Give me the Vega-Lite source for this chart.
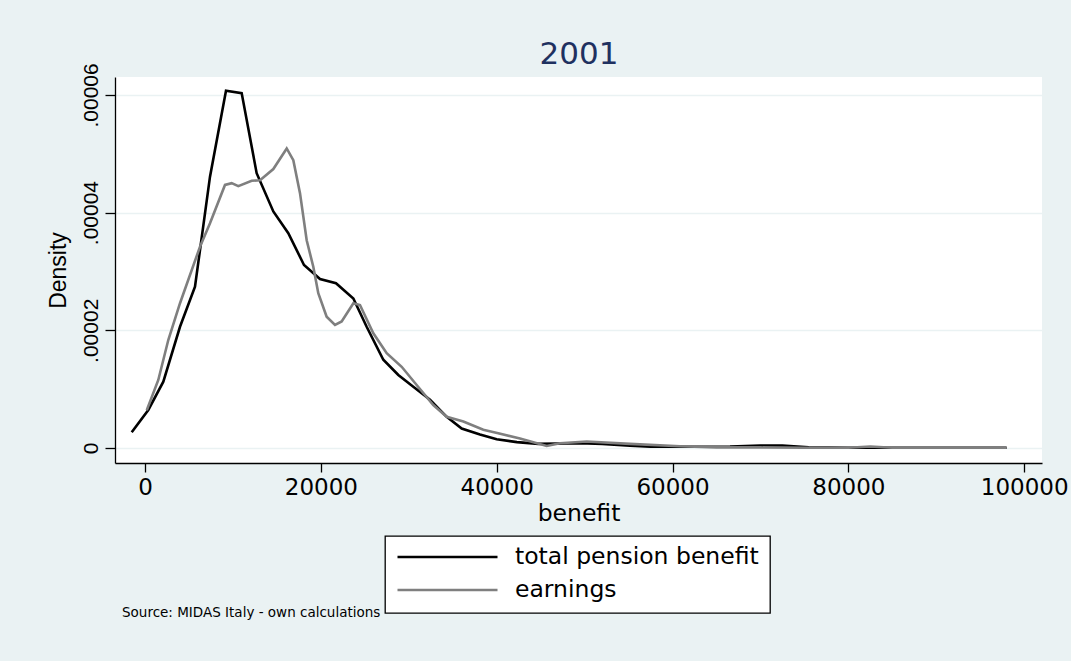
{
  "$schema": "https://vega.github.io/schema/vega-lite/v6.json",
  "width": 927,
  "height": 386,
  "autosize": {"type": "none"},
  "padding": {"left": 115, "top": 77, "right": 29, "bottom": 198},
  "background": "#EAF2F3",
  "title": {
    "text": "Source: MIDAS Italy - own calculations",
    "orient": "bottom",
    "anchor": "start",
    "frame": "group",
    "font": "DejaVu Sans",
    "fontSize": 13.5,
    "fontWeight": "normal",
    "color": "black",
    "offset": -8,
    "dx": 7
  },
  "datasets": {
    "total": [
      {"benefit": -1513, "density": 0.00000267, "series": "total pension benefit"},
      {"benefit": 375, "density": 0.00000646, "series": "total pension benefit"},
      {"benefit": 2085, "density": 0.00001127, "series": "total pension benefit"},
      {"benefit": 3981, "density": 0.0000206, "series": "total pension benefit"},
      {"benefit": 5687, "density": 0.0000274, "series": "total pension benefit"},
      {"benefit": 7393, "density": 0.0000461, "series": "total pension benefit"},
      {"benefit": 9213, "density": 0.0000607, "series": "total pension benefit"},
      {"benefit": 10995, "density": 0.0000603, "series": "total pension benefit"},
      {"benefit": 12700, "density": 0.0000467, "series": "total pension benefit"},
      {"benefit": 14596, "density": 0.0000402, "series": "total pension benefit"},
      {"benefit": 16300, "density": 0.0000365, "series": "total pension benefit"},
      {"benefit": 18085, "density": 0.0000311, "series": "total pension benefit"},
      {"benefit": 19905, "density": 0.0000287, "series": "total pension benefit"},
      {"benefit": 21724, "density": 0.000028, "series": "total pension benefit"},
      {"benefit": 23700, "density": 0.0000254, "series": "total pension benefit"},
      {"benefit": 25212, "density": 0.0000206, "series": "total pension benefit"},
      {"benefit": 27107, "density": 0.000015, "series": "total pension benefit"},
      {"benefit": 28813, "density": 0.0000124, "series": "total pension benefit"},
      {"benefit": 30518, "density": 0.0000104, "series": "total pension benefit"},
      {"benefit": 32416, "density": 0.0000082, "series": "total pension benefit"},
      {"benefit": 34316, "density": 0.0000053, "series": "total pension benefit"},
      {"benefit": 36021, "density": 0.0000033, "series": "total pension benefit"},
      {"benefit": 38100, "density": 0.0000023, "series": "total pension benefit"},
      {"benefit": 40000, "density": 0.0000015, "series": "total pension benefit"},
      {"benefit": 42300, "density": 0.000001, "series": "total pension benefit"},
      {"benefit": 44730, "density": 0.0000007, "series": "total pension benefit"},
      {"benefit": 49500, "density": 0.0000008, "series": "total pension benefit"},
      {"benefit": 52000, "density": 0.0000007, "series": "total pension benefit"},
      {"benefit": 55160, "density": 0.0000004, "series": "total pension benefit"},
      {"benefit": 57500, "density": 0.0000002, "series": "total pension benefit"},
      {"benefit": 60850, "density": 0.0000002, "series": "total pension benefit"},
      {"benefit": 66540, "density": 0.00000025, "series": "total pension benefit"},
      {"benefit": 70000, "density": 0.0000004, "series": "total pension benefit"},
      {"benefit": 72500, "density": 0.0000004, "series": "total pension benefit"},
      {"benefit": 75500, "density": 0.0000001, "series": "total pension benefit"},
      {"benefit": 80000, "density": 0.00000005, "series": "total pension benefit"},
      {"benefit": 85000, "density": 0.00000005, "series": "total pension benefit"},
      {"benefit": 90000, "density": 0.00000003, "series": "total pension benefit"},
      {"benefit": 95000, "density": 0.00000003, "series": "total pension benefit"},
      {"benefit": 98000, "density": 0.00000003, "series": "total pension benefit"}
    ],
    "earnings": [
      {"benefit": 200, "density": 0.0000064, "series": "earnings"},
      {"benefit": 1513, "density": 0.00001156, "series": "earnings"},
      {"benefit": 2650, "density": 0.00001835, "series": "earnings"},
      {"benefit": 3981, "density": 0.0000246, "series": "earnings"},
      {"benefit": 6256, "density": 0.0000342, "series": "earnings"},
      {"benefit": 7393, "density": 0.0000382, "series": "earnings"},
      {"benefit": 9099, "density": 0.0000447, "series": "earnings"},
      {"benefit": 9857, "density": 0.000045, "series": "earnings"},
      {"benefit": 10612, "density": 0.0000445, "series": "earnings"},
      {"benefit": 12131, "density": 0.0000454, "series": "earnings"},
      {"benefit": 13080, "density": 0.0000455, "series": "earnings"},
      {"benefit": 14596, "density": 0.0000474, "series": "earnings"},
      {"benefit": 16117, "density": 0.0000509, "series": "earnings"},
      {"benefit": 16870, "density": 0.0000489, "series": "earnings"},
      {"benefit": 17630, "density": 0.0000433, "series": "earnings"},
      {"benefit": 18390, "density": 0.0000353, "series": "earnings"},
      {"benefit": 19142, "density": 0.0000308, "series": "earnings"},
      {"benefit": 19710, "density": 0.0000263, "series": "earnings"},
      {"benefit": 20660, "density": 0.0000223, "series": "earnings"},
      {"benefit": 21610, "density": 0.0000209, "series": "earnings"},
      {"benefit": 22370, "density": 0.0000215, "series": "earnings"},
      {"benefit": 23700, "density": 0.0000246, "series": "earnings"},
      {"benefit": 24454, "density": 0.0000243, "series": "earnings"},
      {"benefit": 25970, "density": 0.0000195, "series": "earnings"},
      {"benefit": 27490, "density": 0.0000161, "series": "earnings"},
      {"benefit": 29194, "density": 0.0000138, "series": "earnings"},
      {"benefit": 30900, "density": 0.0000107, "series": "earnings"},
      {"benefit": 32790, "density": 0.0000073, "series": "earnings"},
      {"benefit": 34316, "density": 0.0000053, "series": "earnings"},
      {"benefit": 36210, "density": 0.0000045, "series": "earnings"},
      {"benefit": 38480, "density": 0.0000031, "series": "earnings"},
      {"benefit": 40180, "density": 0.0000025, "series": "earnings"},
      {"benefit": 42650, "density": 0.0000016, "series": "earnings"},
      {"benefit": 45690, "density": 0.00000034, "series": "earnings"},
      {"benefit": 47200, "density": 0.0000008, "series": "earnings"},
      {"benefit": 50240, "density": 0.0000011, "series": "earnings"},
      {"benefit": 55160, "density": 0.0000007, "series": "earnings"},
      {"benefit": 60850, "density": 0.0000003, "series": "earnings"},
      {"benefit": 65000, "density": 0.0000001, "series": "earnings"},
      {"benefit": 70000, "density": 0.0000001, "series": "earnings"},
      {"benefit": 75000, "density": 0.00000005, "series": "earnings"},
      {"benefit": 80000, "density": 0.00000005, "series": "earnings"},
      {"benefit": 82500, "density": 0.00000025, "series": "earnings"},
      {"benefit": 85000, "density": 0.00000005, "series": "earnings"},
      {"benefit": 90000, "density": 0.00000005, "series": "earnings"},
      {"benefit": 98000, "density": 0.00000005, "series": "earnings"}
    ]
  },
  "layer": [
    {
      "data": {"name": "total"},
      "mark": {"type": "line", "strokeWidth": 2.6, "clip": true},
      "encoding": {
        "x": {
          "field": "benefit",
          "type": "quantitative",
          "scale": {"domain": [-3412, 102025], "nice": false, "zero": false},
          "axis": {
            "orient": "bottom",
            "title": "benefit",
            "values": [0, 20000, 40000, 60000, 80000, 100000],
            "format": "d",
            "grid": false,
            "labelFont": "DejaVu Sans",
            "labelFontSize": 23,
            "labelPadding": 4,
            "tickSize": 9,
            "titleFont": "DejaVu Sans",
            "titleFontSize": 23.5,
            "titleFontWeight": "normal",
            "titlePadding": 2,
            "labelFlush": false,
            "labelOverlap": false
          }
        },
        "y": {
          "field": "density",
          "type": "quantitative",
          "scale": {"domain": [-0.00000255, 0.00006304], "nice": false, "zero": false},
          "axis": {
            "title": "Density",
            "values": [0, 0.00002, 0.00004, 0.00006],
            "labelExpr": "datum.value == 0 ? '0' : replace(format(datum.value, '.5f'), '0.', '.')",
            "labelAngle": -90,
            "labelAlign": "center",
            "labelBaseline": "alphabetic",
            "labelFont": "Liberation Sans",
            "labelFontSize": 21,
            "labelPadding": 8,
            "tickSize": 10,
            "grid": true,
            "gridColor": "#EAF2F3",
            "gridWidth": 1.5,
            "titleFont": "Liberation Sans",
            "titleFontSize": 23,
            "titleFontWeight": "normal",
            "titlePadding": 10,
            "labelFlush": false,
            "labelOverlap": false
          }
        },
        "color": {
          "field": "series",
          "type": "nominal",
          "scale": {"domain": ["total pension benefit", "earnings"], "range": ["#000000", "#7f7f7f"]},
          "legend": {"title": null, "orient": "none", "legendX": 270, "legendY": 459}
        }
      }
    },
    {
      "data": {"name": "earnings"},
      "mark": {"type": "line", "strokeWidth": 2.6, "clip": true},
      "encoding": {
        "x": {
          "field": "benefit",
          "type": "quantitative",
          "axis": {
            "orient": "top",
            "title": "2001",
            "labels": false,
            "ticks": false,
            "domain": false,
            "grid": false,
            "titleFont": "DejaVu Sans",
            "titleFontSize": 31,
            "titleFontWeight": "normal",
            "titleColor": "#1F3160",
            "titleBaseline": "alphabetic",
            "titlePadding": 14
          }
        },
        "y": {"field": "density", "type": "quantitative"},
        "color": {"field": "series", "type": "nominal"}
      }
    }
  ],
  "resolve": {"axis": {"x": "independent"}},
  "config": {
    "view": {"fill": "white", "stroke": null},
    "axis": {
      "domainColor": "black",
      "tickColor": "black",
      "labelColor": "black",
      "titleColor": "black",
      "domainWidth": 1.3,
      "tickWidth": 1.3
    },
    "legend": {
      "direction": "vertical",
      "fillColor": "white",
      "strokeColor": "black",
      "strokeWidth": 1.3,
      "padding": 11,
      "symbolType": "stroke",
      "symbolSize": 10000,
      "symbolStrokeWidth": 2.5,
      "clipHeight": 20,
      "rowPadding": 9,
      "labelOffset": 16,
      "labelFont": "DejaVu Sans",
      "labelFontSize": 23.5,
      "labelColor": "black",
      "labelLimit": 400
    }
  }
}
